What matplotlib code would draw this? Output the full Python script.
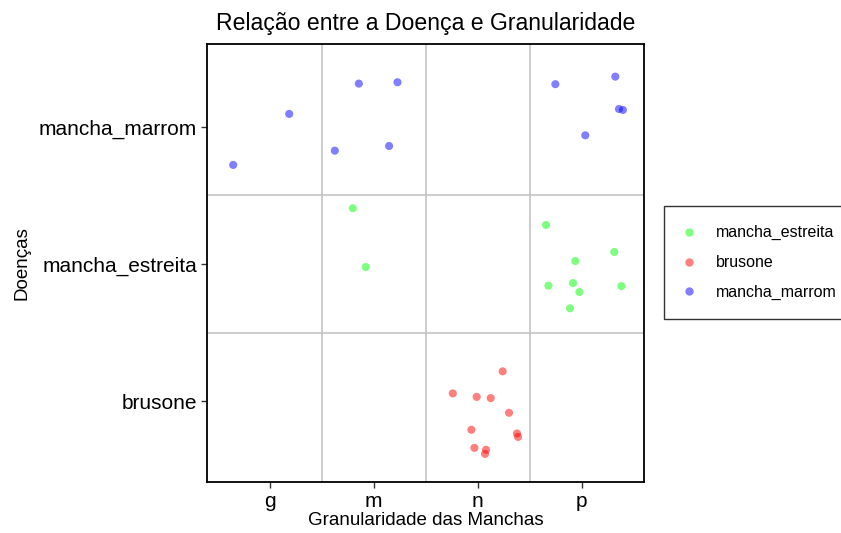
import matplotlib
matplotlib.use("Agg")
import matplotlib.pyplot as plt
from matplotlib.lines import Line2D

plt.rcParams['font.family'] = ['Liberation Sans', 'DejaVu Sans']

# Categories
granularidade = ["g", "m", "n", "p"]
doencas = ["brusone", "mancha_estreita", "mancha_marrom"]

# Jittered points (x position on category scale, y position on category scale)
marrom_x = [0.647, 1.186, 1.856, 2.228, 1.625, 2.147, 3.747, 4.324, 4.359, 4.397, 4.035]
marrom_y = [2.723, 3.095, 3.316, 3.326, 2.827, 2.861, 3.312, 3.367, 3.131, 3.124, 2.939]

estreita_x = [1.798, 1.923, 3.657, 4.314, 3.939, 3.680, 3.917, 3.978, 4.382, 3.888]
estreita_y = [2.407, 1.978, 2.285, 2.088, 2.022, 1.842, 1.861, 1.796, 1.839, 1.677]

brusone_x = [3.240, 2.760, 2.990, 3.125, 3.301, 2.939, 3.378, 3.388, 2.968, 3.080, 3.070]
brusone_y = [1.217, 1.056, 1.031, 1.022, 0.915, 0.791, 0.764, 0.739, 0.659, 0.645, 0.615]

# Create figure
fig = plt.figure(figsize=(8.41, 5.33), dpi=100)
ax = fig.add_axes([207 / 841, 1 - 482 / 533, (644 - 207) / 841, (482 - 44) / 533])

# Plot points
ax.scatter(estreita_x, estreita_y, s=34, color=(0, 1, 0), alpha=0.5, edgecolors='none', zorder=3)
ax.scatter(brusone_x, brusone_y, s=34, color=(1, 0, 0), alpha=0.5, edgecolors='none', zorder=3)
ax.scatter(marrom_x, marrom_y, s=34, color=(0, 0, 1), alpha=0.5, edgecolors='none', zorder=3)

# Axes and grid
ax.set_xlim(0.395, 4.6)
ax.set_ylim(0.41, 3.605)
ax.set_xticks([1, 2, 3, 4])
ax.set_xticklabels(granularidade)
ax.set_yticks([1, 2, 3])
ax.set_yticklabels(doencas)
ax.set_xticks([1.5, 2.5, 3.5], minor=True)
ax.set_yticks([1.5, 2.5], minor=True)
ax.grid(which='minor', color='#c8c8c8', linewidth=1.3, zorder=1)
ax.tick_params(which='minor', length=0)
ax.tick_params(which='major', length=4, width=1, color='#333333', labelsize=15, labelcolor='black', pad=3)
for spine in ax.spines.values():
    spine.set_color('black')
    spine.set_linewidth(1.3)

ax.set_title("Relação entre a Doença e Granularidade", fontsize=16.6, pad=10)
ax.set_xlabel("Granularidade das Manchas", fontsize=13.5, labelpad=1)
ax.set_ylabel("Doenças", fontsize=13.5, labelpad=6)

# Legend
handles = [
    Line2D([], [], linestyle='none', marker='o', markersize=6, markerfacecolor=(0, 1, 0), markeredgecolor='none', alpha=0.5),
    Line2D([], [], linestyle='none', marker='o', markersize=6, markerfacecolor=(1, 0, 0), markeredgecolor='none', alpha=0.5),
    Line2D([], [], linestyle='none', marker='o', markersize=6, markerfacecolor=(0, 0, 1), markeredgecolor='none', alpha=0.5),
]
leg = fig.legend(handles, ["mancha_estreita", "brusone", "mancha_marrom"],
                 loc='upper left', bbox_to_anchor=(664 / 841, 1 - 206 / 533),
                 fontsize=11.5, frameon=True, fancybox=False, edgecolor='black',
                 borderpad=1.2, labelspacing=0.93, handletextpad=1.35, handlelength=0.7,
                 borderaxespad=0)
leg.get_frame().set_linewidth(1.0)

plt.savefig("out.png", dpi=100)
